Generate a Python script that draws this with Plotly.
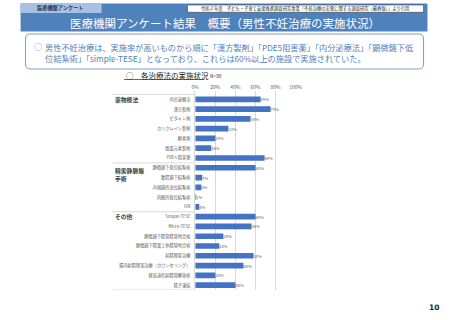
import plotly.graph_objects as go

W, H = 453, 320

categories = [
    "内分泌療法", "漢方製剤", "ビタミン剤", "カリクレイン製剤", "酵素剤", "微量元素製剤", "PDE5 阻害薬",
    "顕微鏡下低位結紮術", "腹腔鏡下結紮術", "内視鏡的高位結紮術", "肉眼的低位結紮術", "IVR",
    "Simple-TESE", "Micro-TESE", "顕微鏡下精管精管吻合術", "顕微鏡下精巣上体精管吻合術",
    "射精障害治療", "膣内射精障害治療（カウンセリング）", "経尿道的射精管解放術", "精子凍結",
]
values = [65, 75, 55, 33, 20, 16, 69,
          60, 7, 6, 1, 4,
          60, 56, 28, 24, 58, 48, 20, 40]
value_labels = [f"{v}%" for v in values]
group_names = ["薬物療法", "精索静脈瘤<br>手術", "その他"]
group_sizes = [7, 5, 8]
x_ticks = [0, 20, 40, 60, 80, 100]
x_tick_labels = [f"{t}%" for t in x_ticks]

JP = "Noto Sans CJK JP"
BLUE = "#4f81bd"
BAR = "#4472c4"
GRAY = "#595959"

def px(x):
    return x / W

def py(y):
    return 1 - y / H

fig = go.Figure()
fig.add_trace(go.Bar(
    y=categories, x=values, orientation="h",
    marker=dict(color=BAR, line=dict(width=0)),
    width=0.58,
    text=value_labels, textposition="outside",
    textfont=dict(family=JP, size=5, color=GRAY),
    cliponaxis=False,
    hoverinfo="skip",
))

n = len(categories)
fig.update_layout(
    width=W, height=H,
    margin=dict(l=0, r=0, t=0, b=0),
    paper_bgcolor="white", plot_bgcolor="white",
    showlegend=False,
    font=dict(family=JP),
    bargap=0.4,
    xaxis=dict(
        domain=[px(196), px(299)],
        range=[0, 100], side="top",
        tickvals=x_ticks, ticktext=x_tick_labels,
        tickfont=dict(family=JP, size=5, color=GRAY),
        showgrid=True, gridcolor="#d9d9d9", gridwidth=1,
        zeroline=False, showline=False, ticks="",
        ticklabelstandoff=0,
        fixedrange=True,
    ),
    yaxis=dict(
        domain=[py(290), py(91)],
        type="category",
        categoryorder="array", categoryarray=categories,
        range=[n - 0.5, -0.85],
        tickfont=dict(family=JP, size=4.2, color=GRAY),
        showgrid=False, zeroline=False, ticks="",
        showline=True, linecolor="#d9d9d9", linewidth=1,
        ticklabelstandoff=3,
        fixedrange=True,
    ),
)

shapes = []
annotations = []

# header band
shapes.append(dict(type="rect", xref="paper", yref="paper",
                   x0=px(17), x1=px(434), y0=py(31.5), y1=py(3.5),
                   fillcolor=BLUE, line=dict(width=0), layer="below"))
shapes.append(dict(type="rect", xref="paper", yref="paper",
                   x0=px(17), x1=px(100), y0=py(13), y1=py(3.5),
                   fillcolor="#a7c0e3", line=dict(width=0), layer="below"))
annotations.append(dict(text="<b>医療機関アンケート</b>", xref="paper", yref="paper",
                        x=px(57), y=py(8.3), xanchor="center", yanchor="middle",
                        showarrow=False, font=dict(family=JP, size=5.2, color="#1f3864")))
shapes.append(dict(type="rect", xref="paper", yref="paper",
                   x0=px(188), x1=px(430), y0=py(12.3), y1=py(5),
                   fillcolor="white", line=dict(width=0.6, color="#404040"), layer="below"))
annotations.append(dict(text="令和２年度　子ども・子育て支援推進調査研究事業「不妊治療の実態に関する調査研究（最終版）」より引用",
                        xref="paper", yref="paper", x=px(309), y=py(8.7),
                        xanchor="center", yanchor="middle", showarrow=False,
                        font=dict(family=JP, size=4.3, color="#262626")))
annotations.append(dict(text="医療機関アンケート結果　概要（男性不妊治療の実施状況）",
                        xref="paper", yref="paper", x=px(227), y=py(23),
                        xanchor="center", yanchor="middle", showarrow=False,
                        font=dict(family=JP, size=11.5, color="white")))

# rounded summary box
x0, x1, y0, y1, r = 22, 430, 34, 69, 5
path = (f"M {px(x0 + r)},{py(y0)} L {px(x1 - r)},{py(y0)} "
        f"Q {px(x1)},{py(y0)} {px(x1)},{py(y0 + r)} L {px(x1)},{py(y1 - r)} "
        f"Q {px(x1)},{py(y1)} {px(x1 - r)},{py(y1)} L {px(x0 + r)},{py(y1)} "
        f"Q {px(x0)},{py(y1)} {px(x0)},{py(y1 - r)} L {px(x0)},{py(y0 + r)} "
        f"Q {px(x0)},{py(y0)} {px(x0 + r)},{py(y0)} Z")
shapes.append(dict(type="path", xref="paper", yref="paper", path=path,
                   line=dict(color="#7f9cc8", width=1), fillcolor="white", layer="below"))
annotations.append(dict(text="○", xref="paper", yref="paper", x=px(29), y=py(47),
                        xanchor="left", yanchor="middle", showarrow=False,
                        font=dict(family=JP, size=8, color=BLUE)))
annotations.append(dict(text="男性不妊治療は、実施率が高いものから順に「漢方製剤」「PDE5阻害薬」「内分泌療法」「顕微鏡下低<br>位結紮術」「simple-TESE」となっており、これらは60%以上の施設で実施されていた。",
                        xref="paper", yref="paper", x=px(40), y=py(52.5),
                        xanchor="left", yanchor="middle", align="left", showarrow=False,
                        font=dict(family=JP, size=8.2, color=BLUE)))

# chart subtitle
annotations.append(dict(text="○　各治療法の実施状況", xref="paper", yref="paper",
                        x=px(123), y=py(75), xanchor="left", yanchor="middle",
                        showarrow=False, font=dict(family=JP, size=7.5, color="#262626")))
shapes.append(dict(type="line", xref="paper", yref="paper",
                   x0=px(123), x1=px(205), y0=py(79.5), y1=py(79.5),
                   line=dict(color="#262626", width=0.7)))
annotations.append(dict(text="N=88", xref="paper", yref="paper",
                        x=px(209), y=py(75), xanchor="left", yanchor="middle",
                        showarrow=False, font=dict(family=JP, size=4.8, color="#262626")))

# group labels and separators
start = 0
for name, size in zip(group_names, group_sizes):
    shapes.append(dict(type="line", xref="paper", yref="y",
                       x0=px(111), x1=px(196), y0=start - 0.5, y1=start - 0.5,
                       line=dict(color="#d9d9d9", width=1)))
    ypos = start if "<br>" not in name else start + 0.7
    annotations.append(dict(text=f"<b>{name}</b>", xref="paper", yref="y",
                            x=px(112), y=ypos, xanchor="left", yanchor="middle",
                            align="left", showarrow=False,
                            font=dict(family=JP, size=5.8, color="#404040")))
    start += size
shapes.append(dict(type="line", xref="paper", yref="y",
                   x0=px(111), x1=px(196), y0=start - 0.5, y1=start - 0.5,
                   line=dict(color="#d9d9d9", width=1)))

annotations.append(dict(text="<b>10</b>", xref="paper", yref="paper",
                        x=px(441), y=py(307), xanchor="center", yanchor="middle",
                        showarrow=False, font=dict(family="DejaVu Sans", size=7.5, color="#262626")))

fig.update_layout(shapes=shapes, annotations=annotations)
fig.write_html("out.html")
